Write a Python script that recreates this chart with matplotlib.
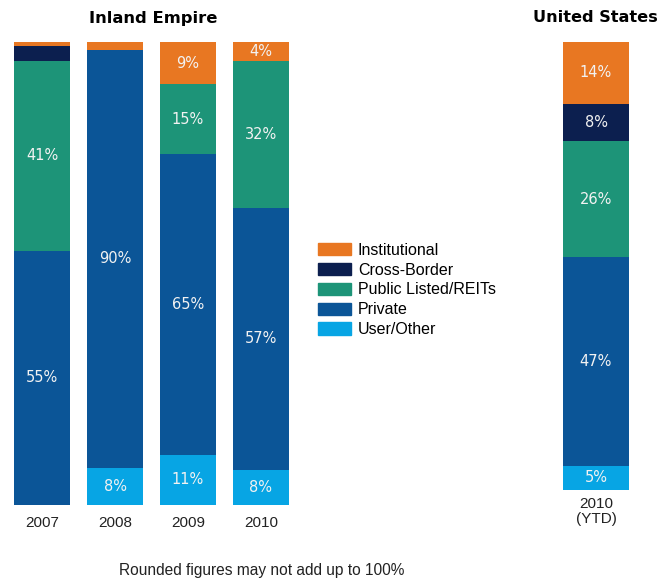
import matplotlib.pyplot as plt
from matplotlib.patches import Patch
import numpy as np

# shares in % (labels are the rounded figures)
segments = ["User/Other", "Private", "Public Listed/REITs", "Cross-Border", "Institutional"]
colors = {"Institutional": "#E87722", "Cross-Border": "#0C1F4F",
          "Public Listed/REITs": "#1D9478", "Private": "#0B5597",
          "User/Other": "#07A5E4"}

ie_years = ["2007", "2008", "2009", "2010"]
ie_user = [0.0, 8.0, 10.8, 7.6]
ie_private = [54.9, 90.3, 65.0, 56.6]
ie_public = [41.0, 0.0, 15.1, 31.7]
ie_cross = [3.2, 0.0, 0.0, 0.0]
ie_inst = [0.9, 1.7, 9.1, 4.1]

us_years = ["2010\n(YTD)"]
us_user = [5.4]
us_private = [46.6]
us_public = [25.9]
us_cross = [8.3]
us_inst = [13.8]

LABEL_MIN = 3.5
FONT = "DejaVu Sans"
ARIAL = "Liberation Sans"


def stacked(ax, cats, series, width, pad=6, spacing=1.0):
    x = np.arange(len(cats))
    bottom = np.zeros(len(cats))
    for name, vals in zip(segments, series):
        vals = np.array(vals)
        ax.bar(x, vals, width, bottom=bottom, color=colors[name], linewidth=0)
        for xi, b, v in zip(x, bottom, vals):
            if v >= LABEL_MIN:
                ax.text(xi, b + v / 2, f"{round(v):.0f}%", ha="center", va="center",
                        color="#F2F2F2", fontsize=10.5, family=FONT)
        bottom += vals
    ax.set_xticks(x)
    ax.set_xticklabels(cats, fontsize=11, family=ARIAL, color="#222",
                       linespacing=spacing)
    ax.tick_params(axis="x", length=0, pad=pad)
    ax.set_yticks([])
    ax.set_ylim(0, 100)
    for s in ax.spines.values():
        s.set_visible(False)


fig = plt.figure(figsize=(6.7, 5.82), dpi=100)

ax1 = fig.add_axes([14 / 670, 1 - 505 / 582, 275 / 670, 463 / 582])
stacked(ax1, ie_years, [ie_user, ie_private, ie_public, ie_cross, ie_inst], 0.77, pad=8)
ax1.set_xlim(-0.385, 3.385)

ax2 = fig.add_axes([563 / 670, 1 - 490 / 582, 66 / 670, 448 / 582])
stacked(ax2, us_years, [us_user, us_private, us_public, us_cross, us_inst], 1.0,
        pad=5, spacing=1.1)
ax2.set_xlim(-0.5, 0.5)

fig.text(153 / 670, 1 - 18 / 582, "Inland Empire", ha="center", va="center",
         fontsize=11.8, fontweight="bold", family=FONT)
fig.text(595 / 670, 1 - 18 / 582, "United States", ha="center", va="center",
         fontsize=11.6, fontweight="bold", family=FONT)
fig.text(262 / 670, 1 - 571 / 582, "Rounded figures may not add up to 100%",
         ha="center", va="center", fontsize=11.2, family=ARIAL, color="#222")

handles = [Patch(color=colors[n], label=n) for n in segments[::-1]]
fig.legend(handles=handles, loc="center left", bbox_to_anchor=(318 / 670, 1 - 290 / 582),
           frameon=False, prop={"family": ARIAL, "size": 11.5},
           handlelength=2.06, handleheight=0.8, labelspacing=0.3, handletextpad=0.44,
           borderpad=0, borderaxespad=0)

fig.savefig("out.png", dpi=100)
